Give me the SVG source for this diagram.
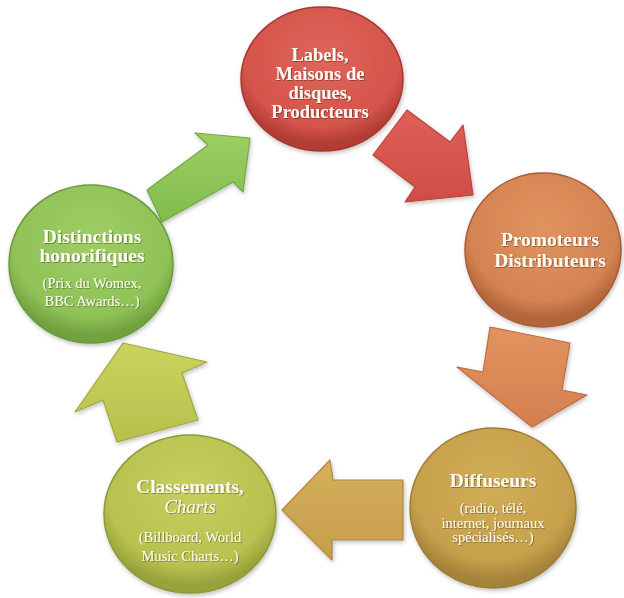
<svg xmlns="http://www.w3.org/2000/svg" width="624" height="598" viewBox="0 0 624 598">
<defs>
<filter id="sh" x="-20%" y="-20%" width="140%" height="140%"><feDropShadow dx="1" dy="2" stdDeviation="2" flood-color="#000" flood-opacity="0.25"/></filter>
<filter id="ts" x="-10%" y="-10%" width="120%" height="130%"><feDropShadow dx="0.8" dy="0.8" stdDeviation="0.6" flood-color="#000" flood-opacity="0.4"/></filter>
<radialGradient id="gRed" cx="50%" cy="35%" r="60%"><stop offset="0" stop-color="#e0645a"/><stop offset="0.8" stop-color="#d4554b"/><stop offset="1" stop-color="#b13c34"/></radialGradient>
<radialGradient id="gOr" cx="50%" cy="35%" r="60%"><stop offset="0" stop-color="#e0935f"/><stop offset="0.8" stop-color="#d48352"/><stop offset="1" stop-color="#b1653b"/></radialGradient>
<radialGradient id="gGold" cx="50%" cy="35%" r="60%"><stop offset="0" stop-color="#d2ae58"/><stop offset="0.8" stop-color="#c6a04c"/><stop offset="1" stop-color="#a5833a"/></radialGradient>
<radialGradient id="gYg" cx="50%" cy="35%" r="60%"><stop offset="0" stop-color="#c6cf5e"/><stop offset="0.8" stop-color="#b8c24f"/><stop offset="1" stop-color="#98a23b"/></radialGradient>
<radialGradient id="gGr" cx="50%" cy="35%" r="60%"><stop offset="0" stop-color="#9fcd65"/><stop offset="0.8" stop-color="#8fc257"/><stop offset="1" stop-color="#71a240"/></radialGradient>
<linearGradient id="aGr" x1="0" y1="0" x2="0" y2="1"><stop offset="0" stop-color="#9ccf63"/><stop offset="1" stop-color="#82bb4d"/></linearGradient>
<linearGradient id="aRed" x1="0" y1="0" x2="0" y2="1"><stop offset="0" stop-color="#df6057"/><stop offset="1" stop-color="#cf4d45"/></linearGradient>
<linearGradient id="aOr" x1="0" y1="0" x2="0" y2="1"><stop offset="0" stop-color="#e2935f"/><stop offset="1" stop-color="#d47f4f"/></linearGradient>
<linearGradient id="aGold" x1="0" y1="0" x2="0" y2="1"><stop offset="0" stop-color="#d6b05c"/><stop offset="1" stop-color="#c79d4b"/></linearGradient>
<linearGradient id="aYg" x1="0" y1="0" x2="0" y2="1"><stop offset="0" stop-color="#cad35d"/><stop offset="1" stop-color="#b7c04c"/></linearGradient>
<style>
.c{filter:url(#sh);stroke-width:1.5}
.a{filter:url(#sh);stroke-width:1.2;stroke-linejoin:round}
.t{font-family:"Liberation Serif","Times New Roman",serif;fill:#fdfbf2;text-anchor:middle;filter:url(#ts)}
.h{font-size:19.5px;font-weight:bold}
.s{font-size:14.5px}
</style>
</defs>
<g id="connectors">
<polygon class="a" fill="url(#aGr)" stroke="#74a844" points="147,190 208,145 195,133 250,138 243,192 233,182 162,222"/>
<polygon class="a" fill="url(#aRed)" stroke="#b8443c" points="407,110 450,142 463,125 473,195 405,202 415,187 373,155"/>
<polygon class="a" fill="url(#aOr)" stroke="#bb6d41" points="490,327 570,343 562,390 587,395 532,427 457,367 483,372"/>
<polygon class="a" fill="url(#aGold)" stroke="#ad8840" points="282,510 330,460 333,480 403,480 403,540 332,540 332,560"/>
<polygon class="a" fill="url(#aYg)" stroke="#a0a83f" points="123,343 207,362 182,373 198,420 117,442 103,400 75,412"/>
</g>
<g id="labels">
<ellipse class="c" cx="322" cy="79" rx="81" ry="72" fill="url(#gRed)" stroke="#a9362f"/>
<text class="t" x="320" font-size="18.5" font-weight="bold"><tspan x="320" y="61">Labels,</tspan><tspan x="320" y="80">Maisons de</tspan><tspan x="320" y="99">disques,</tspan><tspan x="320" y="118">Producteurs</tspan></text>
</g>
<g id="promoteurs">
<ellipse class="c" cx="543" cy="250" rx="78" ry="77" fill="url(#gOr)" stroke="#a95d37"/>
<text class="t h" x="550"><tspan x="550" y="246">Promoteurs</tspan><tspan x="550" y="267">Distributeurs</tspan></text>
</g>
<g id="diffuseurs">
<ellipse class="c" cx="493" cy="508" rx="83" ry="80" fill="url(#gGold)" stroke="#9d7c36"/>
<text class="t h" x="493" y="487">Diffuseurs</text>
<text class="t s" x="493"><tspan x="493" y="513">(radio, télé,</tspan><tspan x="493" y="527.5">internet, journaux</tspan><tspan x="493" y="542">spécialisés…)</tspan></text>
</g>
<g id="classements">
<ellipse class="c" cx="190" cy="514" rx="86" ry="79" fill="url(#gYg)" stroke="#909937"/>
<text class="t h" x="190" y="493">Classements,</text>
<text class="t" x="190" y="513" font-size="19" font-style="italic">Charts</text>
<text class="t s" x="190"><tspan x="190" y="542">(Billboard, World</tspan><tspan x="190" y="561">Music Charts…)</tspan></text>
</g>
<g id="distinctions">
<ellipse class="c" cx="91" cy="264" rx="82" ry="79" fill="url(#gGr)" stroke="#6a993c"/>
<text class="t h" x="92"><tspan x="92" y="243">Distinctions</tspan><tspan x="92" y="262">honorifiques</tspan></text>
<text class="t s" x="92"><tspan x="92" y="288">(Prix du Womex,</tspan><tspan x="92" y="306">BBC Awards…)</tspan></text>
</g>
</svg>
